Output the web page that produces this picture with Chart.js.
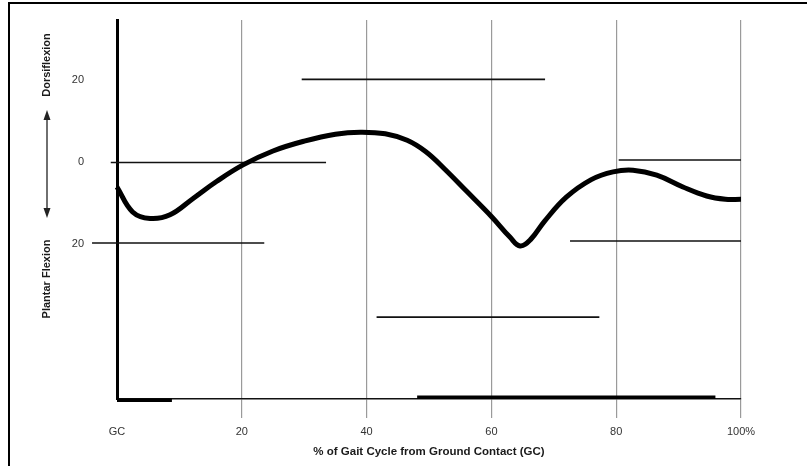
<!DOCTYPE html>
<html>
<head>
<meta charset="utf-8">
<script src="https://cdn.jsdelivr.net/npm/chart.js@4.4.1/dist/chart.umd.min.js"></script>
<style>
  html, body { margin: 0; padding: 0; background: #fff; }
  #wrap { width: 807px; height: 466px; position: relative; }
</style>
</head>
<body>
<div id="wrap"><canvas id="c"></canvas></div>
<script>
// ---- Data ----
const curveX = [0, 2.5, 5.3, 8.5, 12.2, 16, 20.2, 25, 30, 35, 39, 43, 46.5, 49.5, 52.5, 56, 60, 63, 64.6, 66.3, 68.5, 72, 76, 79.5, 82.7, 86.5, 90.7, 94.5, 97.5, 100];
const curveY = [-6.2, -12.3, -13.9, -13.0, -9.0, -4.8, -0.8, 2.6, 5.0, 6.7, 7.2, 6.8, 5.2, 2.4, -1.8, -7.2, -13.4, -18.5, -20.6, -19.0, -14.6, -8.7, -4.4, -2.5, -2.1, -3.3, -6.2, -8.4, -9.2, -9.2];

// reference (range) lines
const refLineY    = [20.1, -0.2, -19.9, 0.4, -19.4, -38.0];
const refLineFrom = [29.6, -1.0, -4.0, 80.4, 72.6, 41.6];
const refLineTo   = [68.6, 33.5, 23.6, 100, 100, 77.3];

// thick bars on the base line
const baseBarY    = [-58.3, -57.6];
const baseBarFrom = [0, 48.1];
const baseBarTo   = [8.8, 95.9];

const xTickValues = [0, 20, 40, 60, 80, 100];
const xTickLabels = ['GC', '20', '40', '60', '80', '100%'];
const yTickValues = [20, 0, -20];
const yTickLabels = ['20', '0', '20'];

const xTitle = '% of Gait Cycle from Ground Contact (GC)';
const yTitleUp = 'Dorsiflexion';
const yTitleDown = 'Plantar Flexion';

// ---- Build datasets ----
const datasets = [];
datasets.push({
  data: curveX.map((x, i) => ({ x: x, y: curveY[i] })),
  borderColor: '#000',
  borderWidth: 5,
  pointRadius: 0,
  tension: 0.4,
  borderCapStyle: 'butt',
  borderJoinStyle: 'round',
  fill: false,
  clip: false
});
refLineY.forEach((y, i) => {
  datasets.push({
    data: [{ x: refLineFrom[i], y: y }, { x: refLineTo[i], y: y }],
    borderColor: '#111',
    borderWidth: 1.6,
    pointRadius: 0,
    fill: false,
    clip: false
  });
});
baseBarY.forEach((y, i) => {
  datasets.push({
    data: [{ x: baseBarFrom[i], y: y }, { x: baseBarTo[i], y: y }],
    borderColor: '#000',
    borderWidth: 3.5,
    pointRadius: 0,
    fill: false,
    clip: false
  });
});

const decor = {
  id: 'decor',
  beforeDraw(chart) {
    const ctx = chart.ctx;
    ctx.save();
    ctx.fillStyle = '#fff';
    ctx.fillRect(0, 0, chart.width, chart.height);
    ctx.restore();
  },
  afterDraw(chart) {
    const ctx = chart.ctx;
    ctx.save();
    // frame (left + top)
    ctx.strokeStyle = '#000';
    ctx.lineWidth = 2;
    ctx.beginPath();
    ctx.moveTo(9, 466);
    ctx.lineTo(9, 3);
    ctx.lineTo(807, 3);
    ctx.stroke();

    // vertical y titles
    const cx = 47;
    ctx.fillStyle = '#1a1a1a';
    ctx.font = 'bold 11px "Liberation Sans", Arial, sans-serif';
    ctx.textAlign = 'center';
    ctx.textBaseline = 'middle';
    ctx.save();
    ctx.translate(cx, 65);
    ctx.rotate(-Math.PI / 2);
    ctx.fillText(yTitleUp, 0, 0);
    ctx.restore();
    ctx.save();
    ctx.translate(cx, 279);
    ctx.rotate(-Math.PI / 2);
    ctx.fillText(yTitleDown, 0, 0);
    ctx.restore();

    // double arrow
    ctx.strokeStyle = '#222';
    ctx.lineWidth = 1.3;
    ctx.beginPath();
    ctx.moveTo(cx, 114);
    ctx.lineTo(cx, 214);
    ctx.stroke();
    ctx.fillStyle = '#222';
    ctx.beginPath();
    ctx.moveTo(cx, 110); ctx.lineTo(cx - 3.5, 120); ctx.lineTo(cx + 3.5, 120); ctx.closePath(); ctx.fill();
    ctx.beginPath();
    ctx.moveTo(cx, 218); ctx.lineTo(cx - 3.5, 208); ctx.lineTo(cx + 3.5, 208); ctx.closePath(); ctx.fill();
    ctx.restore();
  }
};

new Chart(document.getElementById('c'), {
  type: 'line',
  data: { datasets: datasets },
  options: {
    responsive: true,
    maintainAspectRatio: false,
    animation: false,
    events: [],
    layout: { padding: { left: 0, top: 20, right: 66, bottom: 0 } },
    plugins: { legend: { display: false }, tooltip: { enabled: false } },
    scales: {
      x: {
        type: 'linear',
        min: 0,
        max: 100,
        afterBuildTicks(scale) { scale.ticks = xTickValues.map(v => ({ value: v })); },
        afterFit(scale) { scale.height = 67; scale.paddingLeft = 0; scale.paddingRight = 0; },
        ticks: {
          padding: 7,
          color: '#333',
          font: { family: '"Liberation Sans", Arial, sans-serif', size: 11 },
          maxRotation: 0,
          autoSkip: false,
          callback(v) { const i = xTickValues.indexOf(v); return i >= 0 ? xTickLabels[i] : ''; }
        },
        grid: {
          display: true,
          drawTicks: true,
          tickLength: 19,
          lineWidth: 1.2,
          color(ctx) { return ctx.tick && ctx.tick.value === 0 ? 'rgba(0,0,0,0)' : '#9a9a9a'; }
        },
        border: { display: true, color: '#111', width: 1.6 },
        title: {
          display: true,
          text: xTitle,
          color: '#1a1a1a',
          font: { family: '"Liberation Sans", Arial, sans-serif', size: 11.5, weight: 'bold' },
          padding: { top: 0, bottom: 7 }
        }
      },
      y: {
        type: 'linear',
        min: -58.0,
        max: 34.6,
        afterBuildTicks(scale) { scale.ticks = yTickValues.map(v => ({ value: v })); },
        afterFit(scale) { scale.width = 117; scale.paddingTop = 0; scale.paddingBottom = 0; },
        ticks: {
          padding: 33,
          color: '#333',
          font: { family: '"Liberation Sans", Arial, sans-serif', size: 11 },
          callback(v) { const i = yTickValues.indexOf(v); return i >= 0 ? yTickLabels[i] : ''; }
        },
        grid: { display: false, drawTicks: false },
        border: { display: true, color: '#000', width: 3 }
      }
    }
  },
  plugins: [decor]
});
</script>
</body>
</html>
